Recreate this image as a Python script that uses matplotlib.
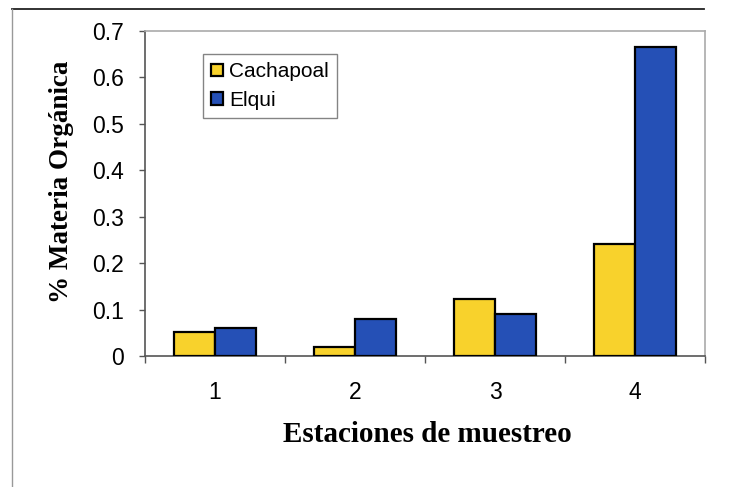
import matplotlib
matplotlib.use("Agg")
import matplotlib.pyplot as plt
import numpy as np
from matplotlib.lines import Line2D

stations = ["1", "2", "3", "4"]
cachapoal = [0.052, 0.019, 0.122, 0.241]
elqui = [0.060, 0.079, 0.090, 0.666]
yticks = [0, 0.1, 0.2, 0.3, 0.4, 0.5, 0.6, 0.7]
ytick_labels = ["0", "0.1", "0.2", "0.3", "0.4", "0.5", "0.6", "0.7"]

W, H = 739, 487
X0, X1, Y0, Y1 = 145, 705, 356, 31  # axes box in pixels
fig = plt.figure(figsize=(W / 100, H / 100), dpi=100)
ax = fig.add_axes([X0 / W, 1 - Y0 / H, (X1 - X0) / W, (Y0 - Y1) / H])

x = np.arange(len(stations))
bw = 0.29
ax.bar(x - bw / 2, cachapoal, bw, color="#F8D22C", edgecolor="black", linewidth=1.6,
       label="Cachapoal", zorder=3)
ax.bar(x + bw / 2, elqui, bw, color="#2550B6", edgecolor="black", linewidth=1.6,
       label="Elqui", zorder=3)

ax.set_xlim(-0.5, len(stations) - 0.5)
ax.set_ylim(0, 0.7)
ax.set_yticks(yticks)
ax.set_yticklabels(ytick_labels, fontsize=16.5, family="Liberation Sans")

# category labels centred under groups, ticks on group boundaries
ax.set_xticks(np.arange(len(stations) + 1) - 0.5)
ax.set_xticklabels([])
ax.set_xticks(x, minor=True)
ax.set_xticklabels(stations, minor=True, fontsize=16.5, family="Liberation Sans")
ax.tick_params(axis="x", which="minor", length=0, pad=18)
ax.tick_params(axis="x", which="major", length=5, width=1, color="#555555", direction="out")
ax.tick_params(axis="y", length=4, width=1, color="#555555", direction="out", pad=11)

for s in ["left", "bottom"]:
    ax.spines[s].set_color("#555555")
    ax.spines[s].set_linewidth(1.2)
for s in ["top", "right"]:
    ax.spines[s].set_color("#aaaaaa")
    ax.spines[s].set_linewidth(1.2)

ax.set_xlabel("Estaciones de muestreo", fontsize=21, family="Liberation Serif",
              fontweight="bold", va="center")
ax.xaxis.set_label_coords((427 - X0) / (X1 - X0), -(435 - Y0) / (Y0 - Y1))
ax.set_ylabel("% Materia Orgánica", fontsize=19.5, family="Liberation Serif",
              fontweight="bold", va="center")
ax.yaxis.set_label_coords(-(X0 - 62) / (X1 - X0), (Y0 - 182) / (Y0 - Y1))

leg = ax.legend(loc="upper left",
                bbox_to_anchor=((203 - X0) / (X1 - X0), 1 - (54 - Y1) / (Y0 - Y1)),
                prop={"family": "Liberation Sans", "size": 15},
                frameon=True, fancybox=False, edgecolor="#666666",
                handlelength=0.55, handleheight=0.55, handletextpad=0.3,
                borderpad=0.4, labelspacing=0.45, borderaxespad=0)
leg.get_frame().set_linewidth(1.0)
for h in leg.legend_handles:
    h.set_linewidth(1.6)

# outer chart border (top and left edges)
fig.add_artist(Line2D([12 / W, 704 / W], [1 - 9 / H, 1 - 9 / H], color="#222222", lw=1.3))
fig.add_artist(Line2D([12 / W, 12 / W], [1 - 9 / H, 0], color="#999999", lw=1.0))

fig.savefig("out.png", dpi=100)
